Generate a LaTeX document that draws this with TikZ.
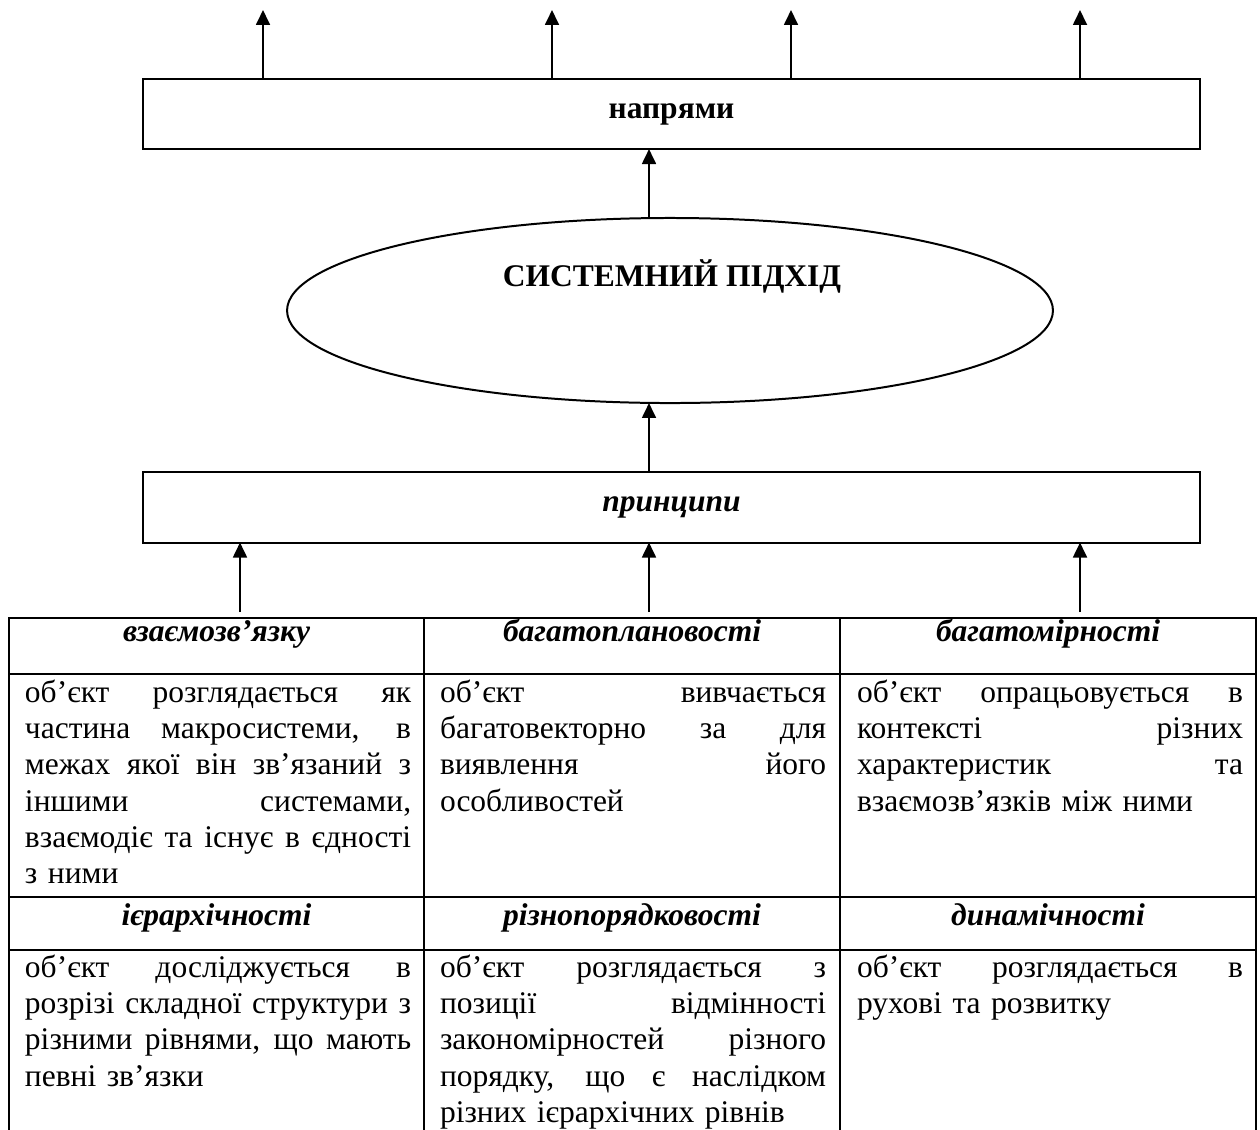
\documentclass[tikz,border=0pt]{standalone}
\usepackage{fontspec}
\setmainfont{Liberation Serif}
\usetikzlibrary{arrows.meta,shapes.geometric}

% one justified line (spaces stretch evenly) and one last, ragged line of a cell
\newcommand\jline[1]{\hbox to\hsize{\strut\spaceskip=.25em plus 1fill\relax #1}}
\newcommand\lline[1]{\hbox{\strut #1}}

\begin{document}
\begin{tikzpicture}[
  x=0.381pt, y=-0.381pt,
  line width=0.76pt,
  font=\fontsize{12}{13.8}\selectfont,
  bar/.style={draw, inner sep=0pt, outer sep=0pt,
    minimum width=402.7pt, minimum height=26.7pt},
  oval/.style={draw, ellipse, inner sep=0pt, outer sep=0pt,
    minimum width=291.8pt, minimum height=70.5pt},
  arr/.style={-{Triangle[length=5.7pt,width=5.3pt]}},
  head/.style={anchor=base, inner sep=0pt,
    font=\fontsize{12}{13.8}\selectfont\bfseries\itshape},
  cell/.style={anchor=north west, inner sep=0pt, text width=147.1pt,
    font=\fontsize{12}{13.8}\selectfont},
]
\clip (0,0) rectangle (1260,1129);

% upper part: directions, approach, principles
\node[bar, font=\fontsize{12}{13.8}\selectfont\bfseries] (nap) at (671.5,114) {напрями};
\node[oval] (sys) at (670,310.5) {};
\node[anchor=base, inner sep=0pt, font=\fontsize{12}{13.8}\selectfont\bfseries] (systxt) at (672,286) {СИСТЕМНИЙ ПІДХІД};
\node[bar, font=\fontsize{12}{13.8}\selectfont\bfseries\itshape] (pr) at (671.5,507.5) {принципи};

\coordinate (ax) at (649,0);
\coordinate (o1) at (263,10);
\coordinate (o2) at (552,10);
\coordinate (o3) at (791,10);
\coordinate (o4) at (1080,10);
\coordinate (i1) at (240,612);
\coordinate (i2) at (649,612);
\coordinate (i3) at (1080,612);

\foreach \o in {o1,o2,o3,o4}
  \draw[arr] (nap.north -| \o) -- (\o);
\draw[arr] (sys.north -| ax) -- (nap.south -| ax);
\draw[arr] (pr.north -| ax) -- (sys.south -| ax);
\foreach \i in {i1,i2,i3}
  \draw[arr] (\i) -- (pr.south -| \i);

% table grid
\draw (9,1140) -- (9,618) -- (1256,618) -- (1256,1140);
\draw (424,618) -- (424,1140);
\draw (840,618) -- (840,1140);
\draw (9,674) -- (1256,674);
\draw (9,897) -- (1256,897);
\draw (9,950) -- (1256,950);

% first row
\node[head] (h1) at (216.5,641) {взаємозв’язку};
\node[head] (h2) at (632,641) {багатоплановості};
\node[head] (h3) at (1048,641) {багатомірності};

\node[cell] (c1) at (24,676) {%
  \jline{об’єкт розглядається як}
  \jline{частина макросистеми, в}
  \jline{межах якої він зв’язаний з}
  \jline{іншими системами,}
  \jline{взаємодіє та існує в єдності}
  \lline{з ними}};
\node[cell] (c2) at (439,676) {%
  \jline{об’єкт вивчається}
  \jline{багатовекторно за для}
  \jline{виявлення його}
  \lline{особливостей}};
\node[cell] (c3) at (856,676) {%
  \jline{об’єкт опрацьовується в}
  \jline{контексті різних}
  \jline{характеристик та}
  \lline{взаємозв’язків між ними}};

% second row
\node[head] (h4) at (216.5,925) {ієрархічності};
\node[head] (h5) at (632,925) {різнопорядковості};
\node[head] (h6) at (1048,925) {динамічності};

\node[cell] (c4) at (24,951) {%
  \jline{об’єкт досліджується в}
  \jline{розрізі складної структури з}
  \jline{різними рівнями, що мають}
  \lline{певні зв’язки}};
\node[cell] (c5) at (439,951) {%
  \jline{об’єкт розглядається з}
  \jline{позиції відмінності}
  \jline{закономірностей різного}
  \jline{порядку, що є наслідком}
  \lline{різних ієрархічних рівнів}};
\node[cell] (c6) at (856,951) {%
  \jline{об’єкт розглядається в}
  \lline{рухові та розвитку}};
\end{tikzpicture}
\end{document}
